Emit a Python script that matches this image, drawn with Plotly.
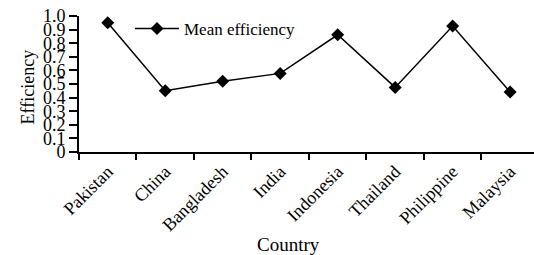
import plotly.graph_objects as go

countries = ["Pakistan", "China", "Bangladesh", "India", "Indonesia", "Thailand", "Philippine", "Malaysia"]
mean_efficiency = [0.95, 0.45, 0.52, 0.578, 0.862, 0.475, 0.926, 0.442]
y_ticks = [0, 0.1, 0.2, 0.3, 0.4, 0.5, 0.6, 0.7, 0.8, 0.9, 1.0]
y_tick_text = ["0", "0.1", "0.2", "0.3", "0.4", "0.5", "0.6", "0.7", "0.8", "0.9", "1.0"]

FONT = "Liberation Serif, Times New Roman, serif"
L, R, T, B, W, H = 79, 0, 16, 103, 534, 255
PW = W - L - R
PH = H - T - B

fig = go.Figure()
fig.add_trace(go.Scatter(
    x=countries, y=mean_efficiency, mode="lines+markers",
    name="Mean efficiency",
    line=dict(color="black", width=1.5),
    marker=dict(symbol="diamond", size=10, color="black"),
))

fig.update_layout(
    width=W, height=H,
    margin=dict(l=L, r=R, t=T, b=B, autoexpand=False),
    paper_bgcolor="white", plot_bgcolor="white",
    font=dict(family=FONT, color="black", size=17),
    showlegend=True,
    legend=dict(x=(130 - L) / PW, y=0.905, xanchor="left", yanchor="middle",
                itemwidth=44,
                bgcolor="rgba(0,0,0,0)", font=dict(size=17, family=FONT)),
    xaxis=dict(
        type="category", range=[-0.5, 7.415], automargin=False,
        showline=True, linecolor="black", linewidth=2,
        ticks="outside", tickson="boundaries", ticklen=6, tickwidth=2, tickcolor="black",
        tickangle=-45, tickfont=dict(size=18, family=FONT),
        showgrid=False, zeroline=False,
    ),
    yaxis=dict(
        range=[0, 1.0], tickvals=y_ticks, ticktext=y_tick_text, automargin=False,
        showline=True, linecolor="black", linewidth=2,
        ticks="outside", ticklen=8, tickwidth=2, tickcolor="black",
        tickfont=dict(size=18, family=FONT),
        showgrid=False, zeroline=False,
    ),
    annotations=[
        dict(text="Country", xref="paper", yref="paper",
             x=(288 - L) / PW, y=(T + PH - 244) / PH, xanchor="center", yanchor="middle",
             showarrow=False, font=dict(size=19, family=FONT)),
        dict(text="Efficiency", xref="paper", yref="paper", textangle=-90,
             x=(27 - L) / PW, y=(T + PH - 87.5) / PH, xanchor="center", yanchor="middle",
             showarrow=False, font=dict(size=18, family=FONT)),
    ],
)

fig.write_html("out.html", config={"displayModeBar": False},
               post_script="document.body.style.margin='0px';document.body.style.overflow='hidden';")
